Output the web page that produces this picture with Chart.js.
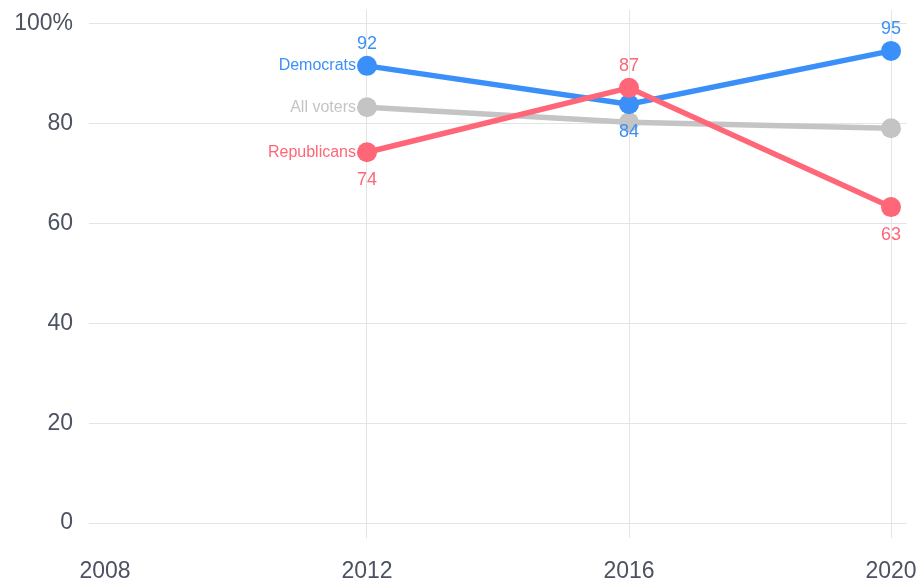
<!DOCTYPE html>
<html>
<head>
<meta charset="utf-8">
<script src="https://cdn.jsdelivr.net/npm/chart.js@4/dist/chart.umd.min.js"></script>
<style>
  html, body { margin: 0; padding: 0; background: #fff; }
  #wrap { width: 920px; height: 582px; position: relative; }
</style>
</head>
<body>
<div id="wrap"><canvas id="voteChart"></canvas></div>
<script>
// Data
const years = [2012, 2016, 2020];
const democrats = [91.6, 83.9, 94.6];
const republicans = [74.3, 87.2, 63.3];
const allVoters = [83.3, 80.3, 79.1];
const xTicks = [2008, 2012, 2016, 2020];
const yTicks = [0, 20, 40, 60, 80, 100];

const tickColor = '#4d5262';
const gridColor = '#e4e4e4';
const fontFamily = '"Liberation Sans", Arial, sans-serif';

function toPoints(values) {
    return years.map((y, i) => ({ x: y, y: values[i] }));
}

// draws series names left of the first point, and value labels above/below points
const labelPlugin = {
    id: 'seriesLabels',
    afterDatasetsDraw(chart) {
        const ctx = chart.ctx;
        chart.data.datasets.forEach((ds, i) => {
            const meta = chart.getDatasetMeta(i);
            ctx.save();
            ctx.fillStyle = ds.borderColor;
            // series name
            const first = meta.data[0];
            ctx.font = '16px ' + fontFamily;
            ctx.textAlign = 'right';
            ctx.textBaseline = 'middle';
            ctx.fillText(ds.label, first.x - 11, first.y);
            // values
            if (ds.valuePlacement) {
                ctx.font = '18px ' + fontFamily;
                ctx.textAlign = 'center';
                meta.data.forEach((pt, j) => {
                    const above = ds.valuePlacement[j] === 'above';
                    ctx.fillText(Math.round(ds.data[j].y), pt.x, above ? pt.y - 22 : pt.y + 28);
                });
            }
            ctx.restore();
        });
    }
};

function noPadding(scale) {
    scale.paddingTop = 0;
    scale.paddingBottom = 0;
    scale.paddingLeft = 0;
    scale.paddingRight = 0;
}

const ctx = document.getElementById('voteChart').getContext('2d');
const voteChart = new Chart(ctx, {
    type: 'line',
    data: {
        datasets: [
            {
                label: 'Republicans',
                data: toPoints(republicans),
                borderColor: '#ff6678',
                backgroundColor: '#ff6678',
                valuePlacement: ['below', 'above', 'below']
            },
            {
                label: 'Democrats',
                data: toPoints(democrats),
                borderColor: '#3a90f8',
                backgroundColor: '#3a90f8',
                valuePlacement: ['above', 'below', 'above']
            },
            {
                label: 'All voters',
                data: toPoints(allVoters),
                borderColor: '#c4c4c4',
                backgroundColor: '#c4c4c4'
            }
        ]
    },
    options: {
        responsive: true,
        maintainAspectRatio: false,
        animation: false,
        events: [],
        layout: {
            padding: { top: 7, right: 13, left: 0, bottom: 0 }
        },
        elements: {
            line: { borderWidth: 5.5, tension: 0 },
            point: { radius: 10, borderWidth: 0, hoverRadius: 10 }
        },
        plugins: {
            legend: { display: false },
            tooltip: { enabled: false }
        },
        scales: {
            x: {
                type: 'linear',
                min: 2007.756,
                max: 2020.244,
                afterBuildTicks: scale => { scale.ticks = xTicks.map(v => ({ value: v })); },
                afterFit: scale => { scale.height = 44; noPadding(scale); },
                border: { display: false },
                grid: {
                    drawTicks: false,
                    color: c => (c.tick && c.tick.value === 2008) ? 'rgba(0,0,0,0)' : gridColor
                },
                ticks: {
                    padding: 20,
                    autoSkip: false,
                    maxRotation: 0,
                    color: tickColor,
                    font: { family: fontFamily, size: 23 },
                    callback: v => String(v)
                }
            },
            y: {
                min: -2.99,
                max: 102.79,
                afterBuildTicks: scale => { scale.ticks = yTicks.map(v => ({ value: v })); },
                afterFit: scale => { scale.width = 89; noPadding(scale); },
                border: { display: false },
                grid: {
                    drawTicks: false,
                    color: gridColor
                },
                ticks: {
                    padding: 16,
                    color: tickColor,
                    font: { family: fontFamily, size: 23 },
                    callback: v => v === 100 ? '100%' : String(v)
                }
            }
        }
    },
    plugins: [labelPlugin]
});
</script>
</body>
</html>
